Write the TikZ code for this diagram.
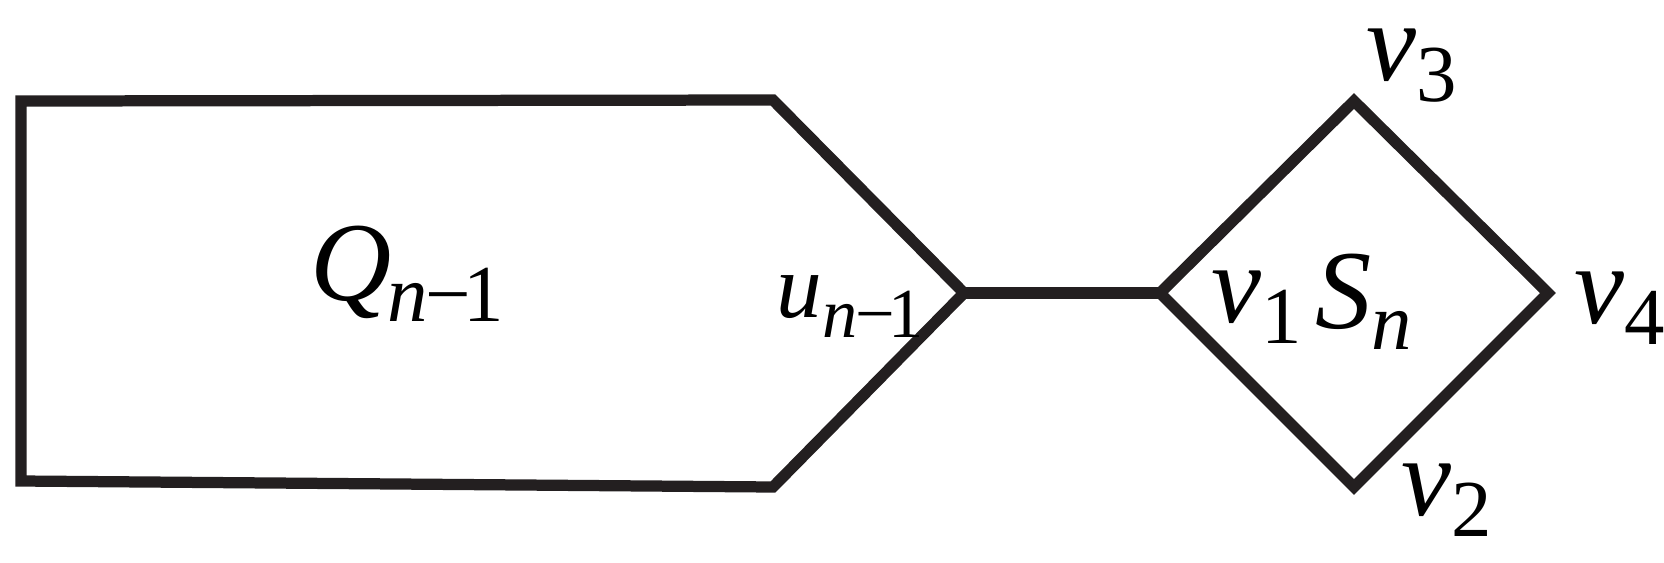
\documentclass[tikz,border=0pt]{standalone}
\usepackage{fontspec}
\setmainfont{Liberation Serif}
\definecolor{edgegray}{HTML}{231F20}
\newcommand{\lowidx}[1]{\raisebox{-0.19em}{\fontsize{11.5}{12}\selectfont #1}}
\newcommand{\smallidx}[1]{\raisebox{-0.22em}{\fontsize{10}{11}\selectfont #1}}
\newcommand{\nmone}{\textit{n}\kern-0.02em−\kern-0.1em1}
\newcommand{\vname}[1]{\textit{v}\lowidx{#1}}

\begin{document}
\begin{tikzpicture}[scale=2, transform shape,
    edge/.style={draw=edgegray, line width=3.2pt, line join=miter},
    lbl/.style={inner sep=0pt, anchor=base west, font=\fontsize{16}{18}\selectfont},
    smalllbl/.style={lbl, font=\fontsize{13}{15}\selectfont}]
    \useasboundingbox (0,0) rectangle (8.32,-2.81);
    % the block Q_{n-1}
    \coordinate (qtl) at (0.105,-0.505);
    \coordinate (qtr) at (3.865,-0.500);
    \coordinate (u) at (4.820,-1.465);
    \coordinate (qbr) at (3.865,-2.435);
    \coordinate (qbl) at (0.105,-2.405);
    % the square S_n
    \coordinate (v1) at (5.800,-1.465);
    \coordinate (v3) at (6.770,-0.505);
    \coordinate (v4) at (7.740,-1.465);
    \coordinate (v2) at (6.770,-2.435);
    \draw [edge] (qtl) -- (qtr) -- (u) -- (qbr) -- (qbl) -- cycle;
    \draw [edge] (u) -- (v1);
    \draw [edge] (v1) -- (v3) -- (v4) -- (v2) -- cycle;
    \node [lbl] (Q) at (1.545,-1.500) {\textit{Q}\kern-0.04em\lowidx{\nmone}};
    \node [smalllbl] (lu) at (3.875,-1.585) {\textit{u}\smallidx{\nmone}};
    \node [lbl] (l1) at (6.050,-1.610) {\vname{1}};
    \node [lbl] (S) at (6.570,-1.640) {\textit{S}\lowidx{\textit{n}}};
    \node [lbl] (l3) at (6.825,-0.400) {\vname{3}};
    \node [lbl] (l4) at (7.865,-1.615) {\vname{4}};
    \node [lbl] (l2) at (7.000,-2.575) {\vname{2}};
\end{tikzpicture}
\end{document}
